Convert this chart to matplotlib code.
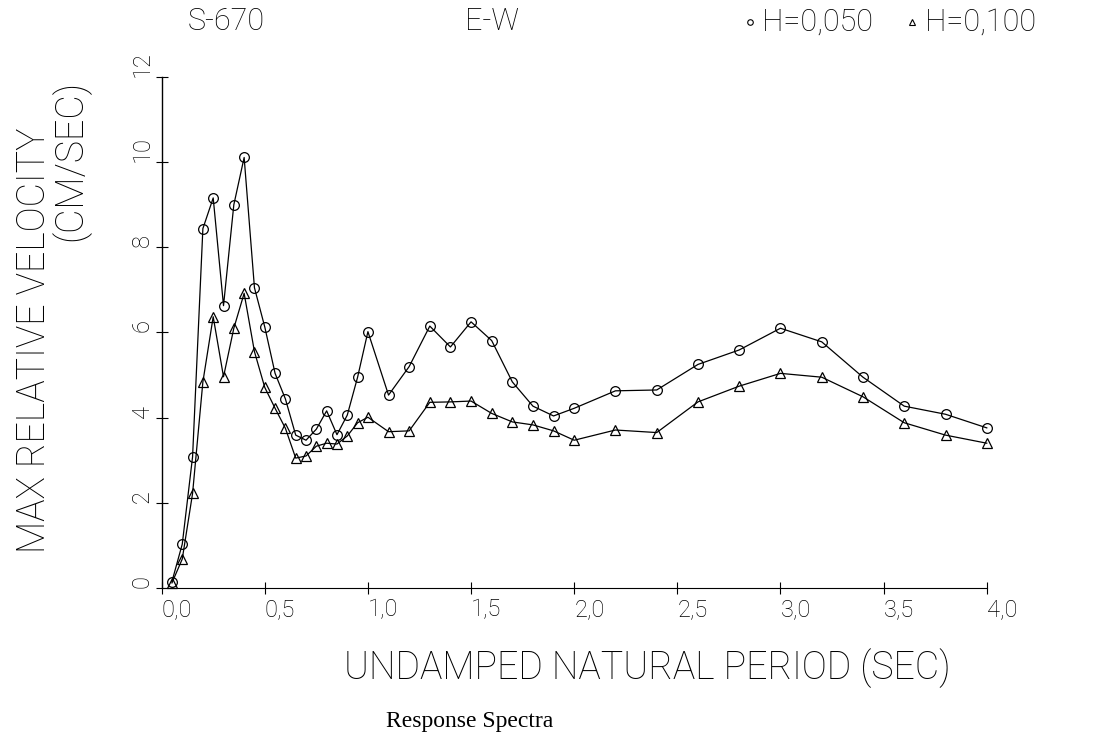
import matplotlib
matplotlib.use("Agg")
import matplotlib.pyplot as plt

# natural periods (sec) and max relative velocity (cm/sec)
period = [0.05, 0.10, 0.15, 0.20, 0.25, 0.30, 0.35, 0.40, 0.45, 0.50,
          0.55, 0.60, 0.65, 0.70, 0.75, 0.80, 0.85, 0.90, 0.95, 1.00,
          1.1, 1.2, 1.3, 1.4, 1.5, 1.6, 1.7, 1.8, 1.9, 2.0,
          2.2, 2.4, 2.6, 2.8, 3.0, 3.2, 3.4, 3.6, 3.8, 4.0]

vel_h050 = [0.15, 1.03, 3.08, 8.44, 9.16, 6.63, 9.00, 10.11, 7.05, 6.13,
            5.04, 4.44, 3.59, 3.47, 3.73, 4.16, 3.60, 4.06, 4.95, 6.02,
            4.53, 5.20, 6.15, 5.66, 6.25, 5.81, 4.84, 4.27, 4.04, 4.22,
            4.63, 4.65, 5.25, 5.59, 6.10, 5.78, 4.95, 4.27, 4.08, 3.76]

vel_h100 = [0.12, 0.68, 2.22, 4.84, 6.37, 4.96, 6.10, 6.92, 5.55, 4.71,
            4.22, 3.75, 3.05, 3.10, 3.33, 3.40, 3.38, 3.57, 3.88, 4.01,
            3.67, 3.69, 4.36, 4.37, 4.39, 4.10, 3.90, 3.83, 3.69, 3.47,
            3.71, 3.65, 4.37, 4.74, 5.04, 4.95, 4.49, 3.88, 3.59, 3.40]

xticks = [0.0, 0.5, 1.0, 1.5, 2.0, 2.5, 3.0, 3.5, 4.0]
xticklabels = ["0,0", "0,5", "1,0", "1,5", "2,0", "2,5", "3,0", "3,5", "4,0"]
yticks = [0, 2, 4, 6, 8, 10, 12]

plot_font = ["Roboto", "DejaVu Sans"]

fig = plt.figure(figsize=(10.98, 7.36), dpi=100)
ax = fig.add_axes([0.1472, 0.2011, 0.7515, 0.6943])

ax.plot(period, vel_h050, color="black", lw=0.9, marker="o", ms=7,
        mfc="none", mec="black", mew=0.9, clip_on=False)
ax.plot(period, vel_h100, color="black", lw=0.9, marker="^", ms=7,
        mfc="none", mec="black", mew=0.9, clip_on=False)

ax.set_xlim(0, 4)
ax.set_ylim(0, 12)
ax.spines["top"].set_visible(False)
ax.spines["right"].set_visible(False)
ax.spines["left"].set_linewidth(1.0)
ax.spines["bottom"].set_linewidth(0.8)

ax.set_xticks(xticks)
ax.set_xticklabels(xticklabels, ha="left", family=plot_font, fontsize=17, weight="light")
ax.set_yticks(yticks)
ax.set_yticklabels([str(v) for v in yticks], rotation=90, va="bottom",
                   family=plot_font, fontsize=17, weight="light")
ax.tick_params(direction="inout", length=9, width=0.8)
ax.tick_params(axis="y", pad=1)
ax.tick_params(axis="x", pad=3)

# axis titles
fig.text(647 / 1098, 1 - 668 / 736, "UNDAMPED NATURAL PERIOD (SEC)", ha="center", va="center",
         family=plot_font, fontsize=27, weight="light")
fig.text(0.031, 1 - 340 / 736, "MAX RELATIVE VELOCITY", rotation=90, ha="center", va="center",
         family=plot_font, fontsize=27, weight="light")
fig.text(0.064, 1 - 80 / 736, "(CM/SEC)", rotation=90, ha="center", va="top",
         family=plot_font, fontsize=27, weight="light")

# header line
hy = 1 - 22 / 736
fig.text(188 / 1098, hy, "S-670", ha="left", va="center", family=plot_font, fontsize=22, weight="light")
fig.text(465 / 1098, hy, "E-W", ha="left", va="center", family=plot_font, fontsize=22, weight="light")
fig.lines.append(plt.Line2D([750 / 1098], [hy], transform=fig.transFigure, marker="o", ms=4,
                            mfc="none", mec="black", mew=0.8, ls="none"))
fig.text(762 / 1098, hy, "H=0,050", ha="left", va="center", family=plot_font, fontsize=22, weight="light")
fig.lines.append(plt.Line2D([912 / 1098], [hy], transform=fig.transFigure, marker="^", ms=4,
                            mfc="none", mec="black", mew=0.8, ls="none"))
fig.text(925 / 1098, hy, "H=0,100", ha="left", va="center", family=plot_font, fontsize=22, weight="light")

# caption
fig.text(470 / 1098, 1 - 722 / 736, "Response Spectra", ha="center", va="center",
         family=["Liberation Serif", "DejaVu Serif"], fontsize=17)

fig.savefig("out.png", dpi=100)
